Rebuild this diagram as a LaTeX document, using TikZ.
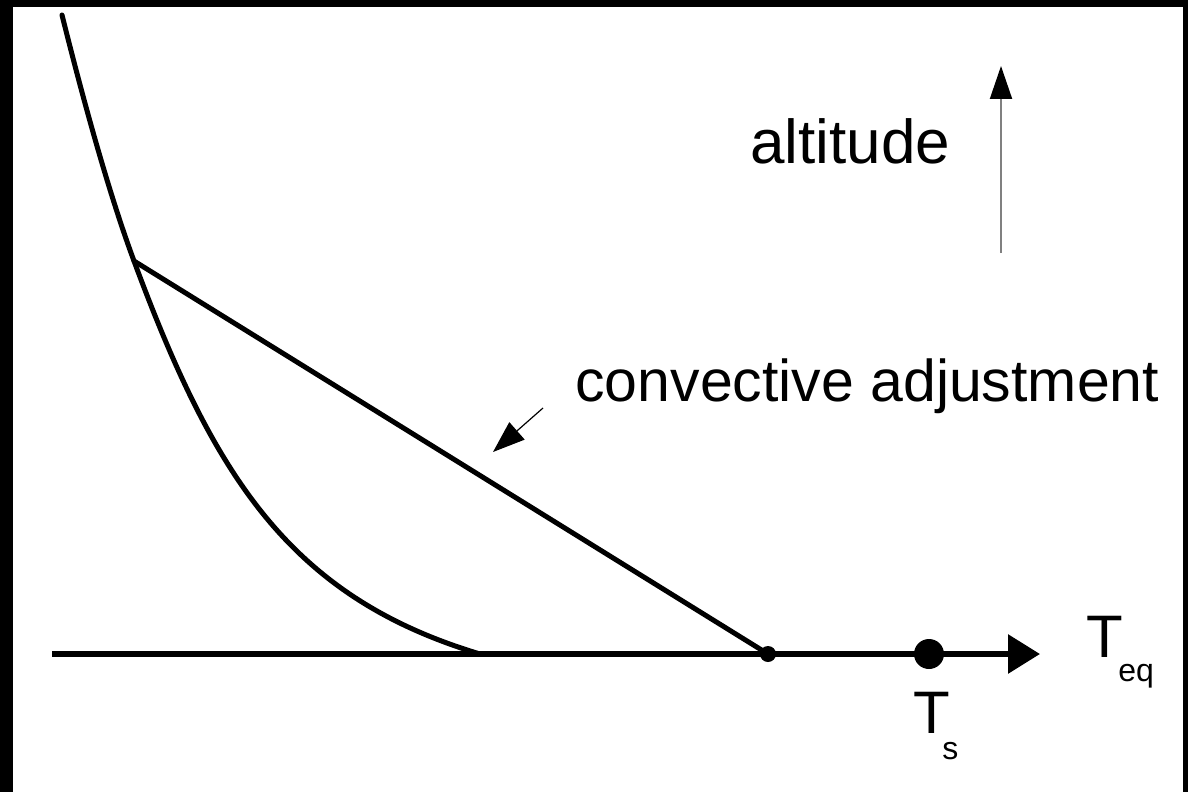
\documentclass[tikz,border=0pt]{standalone}
\usepackage{fontspec}
\setmainfont{Liberation Sans}
\usetikzlibrary{arrows.meta}
\tikzset{
  big/.style={inner sep=0pt, anchor=base west, text depth=0pt, font=\fontsize{30}{36}\selectfont},
  sub/.style={inner sep=0pt, anchor=base west, text height=9pt, font=\fontsize{16}{19}\selectfont},
  curveline/.style={line width=2.5pt, line cap=round, line join=round},
  axisline/.style={line width=3pt, -{Triangle[length=16pt,width=19pt]}},
  dotnode/.style={circle, fill=black, inner sep=0pt},
}
\begin{document}
\begin{tikzpicture}[x=0.5pt,y=-0.5pt]
\useasboundingbox (0,0) rectangle (1188,792);
\fill[black] (0,0) rectangle (1188,792);
\fill[white] (13,7) rectangle (1183,792);
% axis
\coordinate (axstart) at (52,654);
\coordinate (axend) at (1040,654);
\draw[axisline] (axstart) -- (axend);
% equilibrium curve
\coordinate (curvetop) at (62,15);
\coordinate (knee) at (134,261);
\coordinate (curvefoot) at (480,654);
\draw[curveline] (curvetop) .. controls (82,95) and (108,191) .. (knee)
  .. controls (214,477) and (290,597) .. (curvefoot);
% dots
\node[dotnode, minimum size=8pt] (adj) at (768,654) {};
\node[dotnode, minimum size=15pt] (ts) at (929,654) {};
% adjustment line
\draw[curveline] (knee) -- (adj.center);
% labels
\node[big] (teq) at (1086,657) {T};
\node[sub] (eq) at (1118,681) {eq};
\node[big] (tsT) at (913,733) {T};
\node[sub] (tss) at (942,759) {s};
\node[big, font=\fontsize{31}{37}\selectfont] (alt) at (750,163) {altitude};
\node[big, font=\fontsize{29.5}{35}\selectfont] (conv) at (575,401) {convective adjustment};
% altitude arrow
\coordinate (altbot) at (1001,253);
\coordinate (alttop) at (1001,66);
\draw[line width=1pt, color=gray, -{Triangle[length=16.5pt,width=11pt,color=black]}] (altbot) -- (alttop);
% pointer arrow
\coordinate (ptrstart) at (543,408);
\coordinate (ptrtip) at (493,452);
\draw[line width=0.6pt, -{Triangle[length=16pt,width=11.5pt]}] (ptrstart) -- (ptrtip);
\end{tikzpicture}
\end{document}
